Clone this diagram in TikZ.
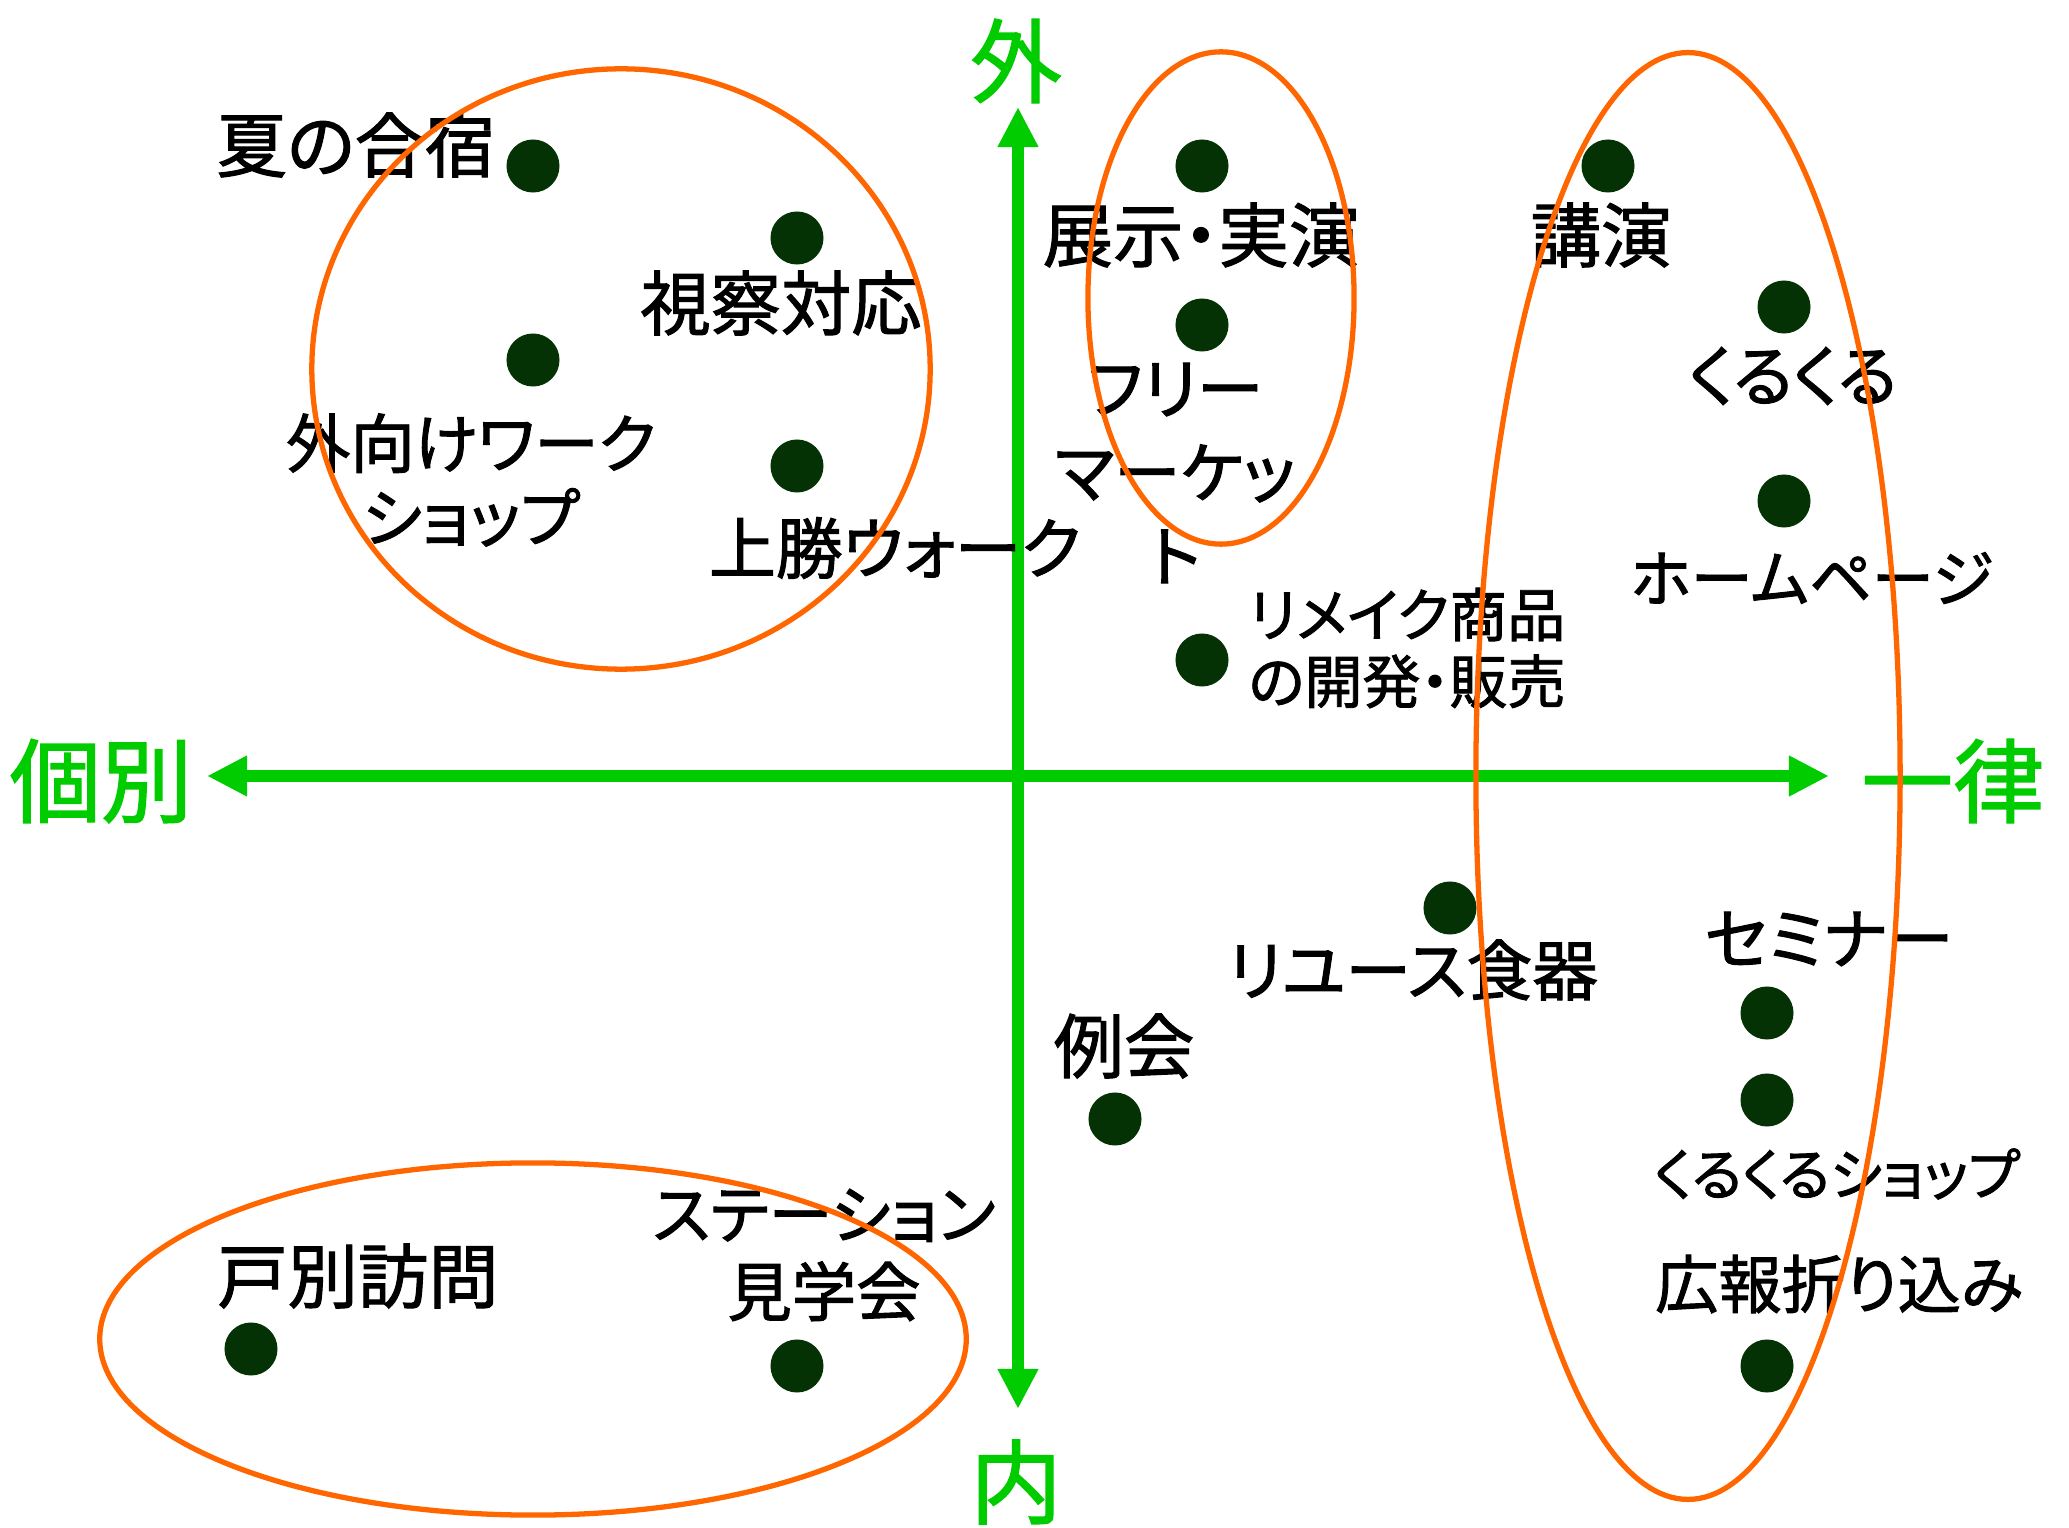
\documentclass[tikz,border=0pt]{standalone}
\usepackage{fontspec}
\usepackage{tikz}
\usetikzlibrary{arrows.meta}

\newfontfamily\jp[RawFeature=+palt,FakeBold=1.5]{Noto Sans CJK JP}

\definecolor{axisgreen}{RGB}{0,204,0}
\definecolor{ringorange}{RGB}{255,102,0}
\definecolor{dotgreen}{RGB}{4,50,4}

\tikzset{
  axisline/.style={axisgreen,line width=3.4pt,{Triangle[length=0.4cm,width=0.38cm]}-{Triangle[length=0.4cm,width=0.38cm]}},
  axislabel/.style={axisgreen,inner sep=0,font=\jp\fontsize{26pt}{28pt}\selectfont},
  ring/.style={ringorange,line width=1.5pt},
  dot/.style={circle,fill=dotgreen,inner sep=0,minimum size=0.53cm},
  lbl/.style={inner sep=0,align=center,font=\jp\fontsize{#1}{1.15\dimexpr#1\relax}\selectfont},
  lbl/.default=20pt
}

\begin{document}
\begin{tikzpicture}[x=0.01cm,y=-0.01cm]

\useasboundingbox (0,0) rectangle (2069,1528);

\coordinate (top) at (1018,107);
\coordinate (bottom) at (1018,1409);
\coordinate (left) at (207,776);
\coordinate (right) at (1829,776);

\draw [axisline] (bottom) -- (top);

\draw [axisline] (left) -- (right);

\node [axislabel] (outside) at (1016,61) {外};
\node [axislabel] (inside) at (1016,1482) {内};
\node [axislabel] (individual) at (101,781) {個別};
\node [axislabel] (uniform) at (1953,781) {一律};

\node [dot] (d1) at (533,166) {};
\node [dot] (d2) at (797,238) {};
\node [dot] (d3) at (533,360) {};
\node [dot] (d4) at (797,466) {};
\node [dot] (d5) at (1202,166) {};
\node [dot] (d6) at (1202,325) {};
\node [dot] (d7) at (1202,660) {};
\node [dot] (d8) at (1608,166) {};
\node [dot] (d9) at (1784,307) {};
\node [dot] (d10) at (1784,501) {};
\node [dot] (d11) at (1450,908) {};
\node [dot] (d12) at (1115,1119) {};
\node [dot] (d13) at (1767,1013) {};
\node [dot] (d14) at (1767,1100) {};
\node [dot] (d15) at (1767,1366) {};
\node [dot] (d16) at (251,1349) {};
\node [dot] (d17) at (797,1366) {};

\node [lbl] (summercamp) at (356,145) {夏の合宿};
\node [lbl] (visit) at (781,303) {視察対応};
\node [lbl=18.3pt] (workshop) at (471,480) {外向けワーク\\ショップ};
\node [lbl=19pt] (walk) at (895,548) {上勝ウォーク};
\node [lbl] (exhibit) at (1201,235) {展示・実演};
\node [lbl=19pt] (fleamarket) at (1175,473) {フリー\\[2pt]マーケッ\\[2pt]ト};
\node [lbl=16.5pt] (remake) at (1407,648) {リメイク商品\\の開発・販売};
\node [lbl] (lecture) at (1601,235) {講演};
\node [lbl=19pt] (kurukuru) at (1793,376) {くるくる};
\node [lbl=17.7pt] (homepage) at (1812,578) {ホームページ};
\node [lbl=18.7pt] (reuse) at (1413,970) {リユース食器};
\node [lbl] (meeting) at (1124,1046) {例会};
\node [lbl=19pt] (seminar) at (1829,939) {セミナー};
\node [lbl=16pt] (kshop) at (1837,1174) {くるくるショップ};
\node [lbl=18pt] (flyer) at (1839,1284) {広報折り込み};
\node [lbl] (doortodoor) at (358,1276) {戸別訪問};
\node [lbl=18.3pt] (station) at (824,1255) {ステーション\\[1pt]見学会};

\draw [ring] (621,369) ellipse [x radius=3.09cm, y radius=3.00cm];

\draw [ring] (1221,298) ellipse [x radius=1.33cm, y radius=2.46cm];

\draw [ring] (1688,776) ellipse [x radius=2.12cm, y radius=7.23cm];

\draw [ring] (533,1339) ellipse [x radius=4.33cm, y radius=1.76cm];

\end{tikzpicture}
\end{document}
